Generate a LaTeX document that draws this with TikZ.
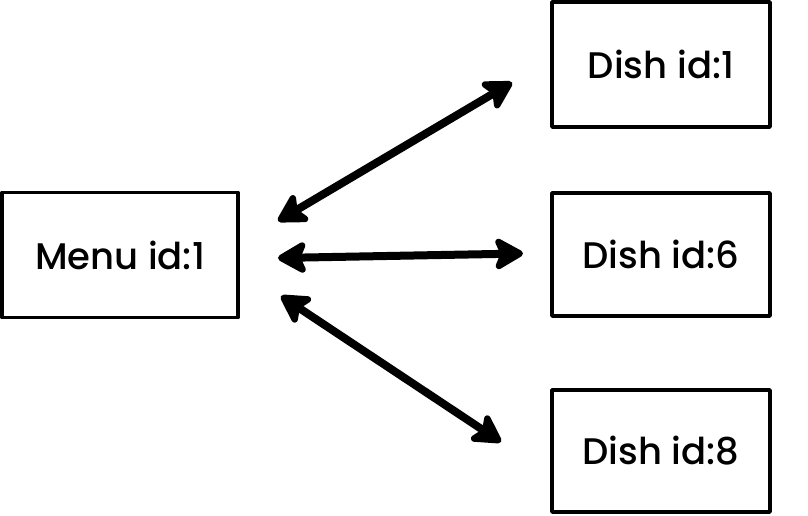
\documentclass[tikz,border=0pt]{standalone}
\usepackage{fontspec}
\setmainfont{Poppins}[UprightFont={* Medium}]
\usetikzlibrary{arrows.meta,positioning}

\begin{document}
\begin{tikzpicture}[
x=1pt, y=1pt,
every node/.style={font=\fontsize{37}{44}\selectfont},
entity/.style={draw, line width=3.5pt, line join=round, inner sep=0pt, outer sep=0pt, minimum height=125pt},
link/.style={{Stealth[length=34pt,width=38pt,inset=8pt,round]}-{Stealth[length=34pt,width=38pt,inset=8pt,round]}, line width=8pt}
]
\useasboundingbox (0,0) rectangle (808,516);

% Menu side
\node[entity, minimum width=236pt] (menu) at (120,261) {Menu id:1};

% Dishes
\node[entity, minimum width=218pt] (dish1) at (661,451.5) {Dish id:1};
\node[entity, minimum width=218pt, minimum height=123pt] (dish6) at (661,261.5) {Dish id:6};
\node[entity, minimum width=218pt, minimum height=122pt] (dish8) at (661,65) {Dish id:8};

% Links
\draw[link] ([xshift=40pt,yshift=34pt]menu.east) -- ([xshift=-40pt,yshift=-18pt]dish1.west);
\draw[link] ([xshift=40pt,yshift=-3pt]menu.east) -- ([xshift=-29pt,yshift=1pt]dish6.west);
\draw[link] ([xshift=43pt,yshift=-41pt]menu.east) -- ([xshift=-51pt,yshift=9pt]dish8.west);

\end{tikzpicture}
\end{document}
